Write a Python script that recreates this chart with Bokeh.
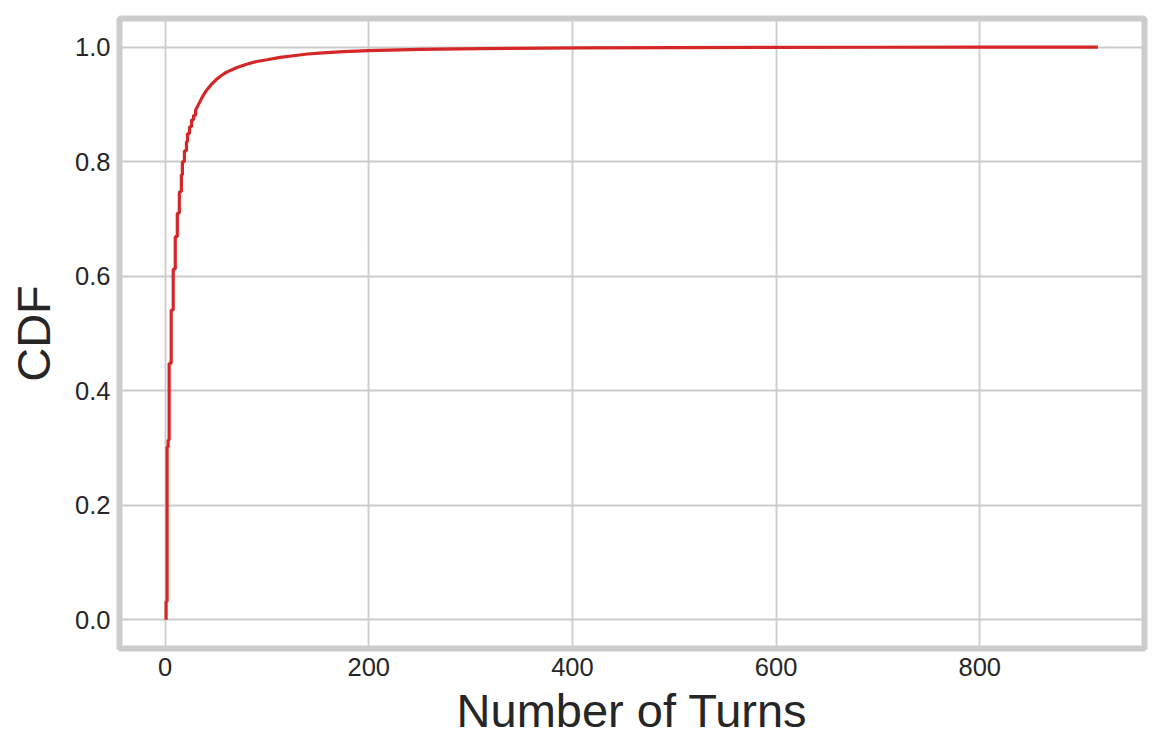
from bokeh.plotting import figure
from bokeh.models import Range1d, FixedTicker, PrintfTickFormatter
from bokeh.embed import file_html
from bokeh.resources import INLINE

# Step part of the empirical CDF (number of turns -> cumulative share)
step_turns = [1, 2, 3, 4, 6, 8, 10, 12, 14, 16, 17, 19, 21, 22, 24, 26, 28, 30]
step_cdf = [0.032, 0.302, 0.314, 0.448, 0.541, 0.6125, 0.669, 0.710, 0.7475,
            0.777, 0.800, 0.819, 0.835, 0.849, 0.861, 0.873, 0.881, 0.890]

# Smooth tail of the CDF
tail_turns = [32, 34, 36, 38, 40, 45, 50, 55, 60, 70, 80, 90, 100, 113, 126,
              140, 155, 175, 200, 250, 309, 407, 500, 600, 700, 800, 916]
tail_cdf = [0.897, 0.904, 0.911, 0.917, 0.923, 0.934, 0.943, 0.950, 0.956,
            0.964, 0.970, 0.975, 0.978, 0.982, 0.985, 0.988, 0.990, 0.992,
            0.994, 0.996, 0.9975, 0.9988, 0.9993, 0.9996, 0.9998, 0.9999, 1.0]

x_ticks = [0, 200, 400, 600, 800]
y_ticks = [0.0, 0.2, 0.4, 0.6, 0.8, 1.0]

# build the ECDF polyline (vertical jump at each turn count)
xs, ys = [], []
prev = 0.0
for k, c in zip(step_turns, step_cdf):
    xs += [k, k]
    ys += [prev, c]
    prev = c
xs += tail_turns
ys += tail_cdf

TEXT = "#262626"
GRID = "#cccccc"

p = figure(frame_width=1025, frame_height=630,
           x_range=Range1d(-44.75, 961.75), y_range=Range1d(-0.05, 1.05),
           output_backend="svg", toolbar_location=None,
           min_border_left=119, min_border_top=18, min_border_right=10,
           min_border_bottom=100)

p.background_fill_color = "white"
p.border_fill_color = "white"
p.outline_line_color = GRID
p.outline_line_width = 6

p.line(xs, ys, line_color="#d62728", line_width=3.2)

for ax in (p.xaxis[0], p.yaxis[0]):
    ax.axis_line_color = None
    ax.major_tick_line_color = None
    ax.minor_tick_line_color = None
    ax.major_tick_out = 0
    ax.minor_tick_out = 0
    ax.major_label_text_font = "Liberation Sans"
    ax.major_label_text_font_size = "25.5px"
    ax.major_label_text_color = TEXT
    ax.axis_label_text_font = "Liberation Sans"
    ax.axis_label_text_font_size = "47px"
    ax.axis_label_text_font_style = "normal"
    ax.axis_label_text_color = TEXT
    ax.major_label_standoff = 9

p.xaxis[0].ticker = FixedTicker(ticks=x_ticks)
p.yaxis[0].ticker = FixedTicker(ticks=y_ticks)
p.yaxis[0].formatter = PrintfTickFormatter(format="%.1f")
p.xaxis[0].axis_label = "Number of Turns"
p.yaxis[0].axis_label = "CDF"
p.xaxis[0].axis_label_standoff = 5
p.yaxis[0].axis_label_standoff = 12

p.xgrid.grid_line_color = GRID
p.ygrid.grid_line_color = GRID
p.xgrid.grid_line_width = 1.8
p.ygrid.grid_line_width = 1.8

open("out.html", "w").write(file_html(p, INLINE))
